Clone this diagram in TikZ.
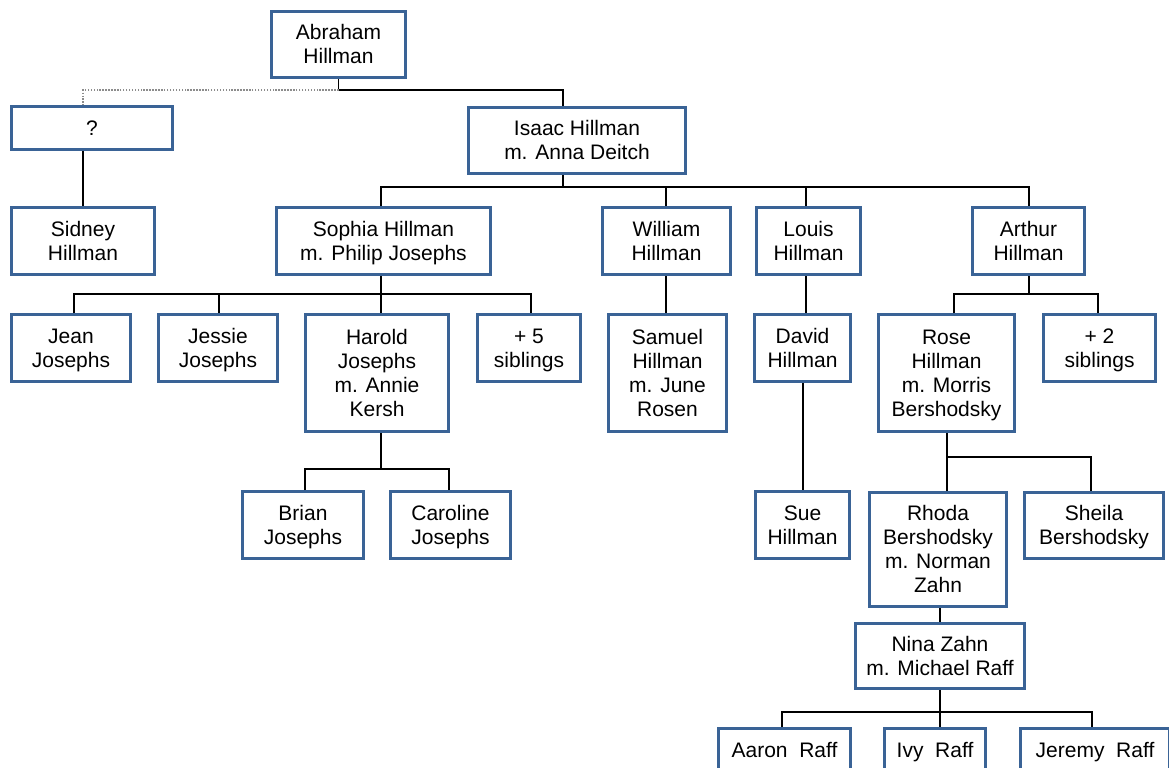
\documentclass[tikz,border=0pt]{standalone}
\usepackage{fontspec}
\setmainfont{Liberation Sans}
\definecolor{boxblue}{RGB}{58,99,150}
\definecolor{dotgray}{RGB}{140,140,140}
\tikzset{
  pbox/.style={draw=boxblue, line width=2.25pt, fill=white, rectangle, align=center,
    inner sep=0pt, font=\fontsize{15.75}{18}\selectfont, text=black},
  conn/.style={draw=black, line width=1.2pt},
  dotline/.style={draw=dotgray, line width=1.1pt, dash pattern=on 1.1pt off 1.1pt},
}
\newcommand\bx[6]{\node[pbox,minimum width={(#4-#2-3)*0.75pt},minimum height={(#5-#3-3)*0.75pt}] (#1) at ({(#2+#4)/2},{(#3+#5)/2}) {\rule{0pt}{14.25pt}#6\rule[-3.75pt]{0pt}{3.75pt}};}
\begin{document}
\begin{tikzpicture}[x=0.75pt,y=-0.75pt]
\useasboundingbox (0,0) rectangle (1169,767);
\clip (0,0) rectangle (1169,767);
% boxes
\bx{abr}{270}{10}{407}{79}{Abraham\\Hillman}
\bx{unk}{10}{105}{174}{151}{?}
\bx{isaac}{467}{106}{687}{175}{Isaac Hillman\\m. Anna Deitch}
\bx{sidney}{10}{206}{156}{276}{Sidney\\Hillman}
\bx{sophia}{275}{206}{492}{276}{Sophia Hillman\\m. Philip Josephs}
\bx{william}{601}{206}{732}{276}{William\\Hillman}
\bx{louis}{755}{206}{862}{276}{Louis\\Hillman}
\bx{arthur}{971}{206}{1086}{276}{Arthur\\Hillman}
\bx{jean}{10}{313}{132}{383}{Jean\\Josephs}
\bx{jessie}{157}{313}{279}{383}{Jessie\\Josephs}
\bx{harold}{304}{313}{450}{433}{Harold\\Josephs\\m. Annie\\Kersh}
\bx{plusfive}{476}{313}{582}{383}{+ 5\\siblings}
\bx{samuel}{607}{313}{728}{433}{Samuel\\Hillman\\m. June\\Rosen}
\bx{david}{753}{313}{852}{383}{David\\Hillman}
\bx{rose}{877}{313}{1016}{433}{Rose\\Hillman\\m. Morris\\Bershodsky}
\bx{plustwo}{1042}{313}{1157}{383}{+ 2\\siblings}
\bx{brian}{241}{490}{365}{560}{Brian\\Josephs}
\bx{caroline}{389}{490}{512}{560}{Caroline\\Josephs}
\bx{sue}{754}{490}{851}{560}{Sue\\Hillman}
\bx{rhoda}{868}{491}{1008}{608}{Rhoda\\Bershodsky\\m. Norman\\Zahn}
\bx{sheila}{1023}{491}{1165}{560}{Sheila\\Bershodsky}
\bx{nina}{854}{622}{1026}{690}{Nina Zahn\\m. Michael Raff}
\bx{aaron}{717}{727}{852}{773}{Aaron\ \ Raff}
\bx{ivy}{883}{727}{987}{773}{Ivy\ \ Raff}
\bx{jeremy}{1019}{727}{1171}{773}{Jeremy\ \ Raff}
% connectors
\draw[conn] (abr.south) |- (563,90) -- (563,0 |- isaac.north);
\draw[dotline] (abr.south |- 0,90) -- (83,90) -- (83,0 |- unk.north);
\draw[conn] (83,0 |- unk.south) -- (83,0 |- sidney.north);
\draw[conn] (563,0 |- isaac.south) -- (563,187);
\draw[conn] (381,0 |- sophia.north) -- (381,187) -- (1029,187) -- (1029,0 |- arthur.north);
\draw[conn] (666,187) -- (666,0 |- william.north);
\draw[conn] (806,187) -- (806,0 |- louis.north);
\draw[conn] (381,0 |- sophia.south) -- (381,0 |- harold.north);
\draw[conn] (74,0 |- jean.north) -- (74,294) -- (531,294) -- (531,0 |- plusfive.north);
\draw[conn] (219,294) -- (219,0 |- jessie.north);
\draw[conn] (666,0 |- william.south) -- (666,0 |- samuel.north);
\draw[conn] (806,0 |- louis.south) -- (806,0 |- david.north);
\draw[conn] (803,0 |- david.south) -- (803,0 |- sue.north);
\draw[conn] (1029,0 |- arthur.south) -- (1029,294);
\draw[conn] (954,0 |- rose.north) -- (954,294) -- (1098,294) -- (1098,0 |- plustwo.north);
\draw[conn] (381,0 |- harold.south) -- (381,469);
\draw[conn] (305,0 |- brian.north) -- (305,469) -- (449,469) -- (449,0 |- caroline.north);
\draw[conn] (947,0 |- rose.south) -- (947,457) -- (1091,457) -- (1091,0 |- sheila.north);
\draw[conn] (947,457) -- (947,0 |- rhoda.north);
\draw[conn] (940,0 |- rhoda.south) -- (940,0 |- nina.north);
\draw[conn] (940,0 |- nina.south) -- (940,712);
\draw[conn] (782,0 |- aaron.north) -- (782,712) -- (1092,712) -- (1092,0 |- jeremy.north);
\draw[conn] (940,712) -- (940,0 |- ivy.north);
\end{tikzpicture}
\end{document}
